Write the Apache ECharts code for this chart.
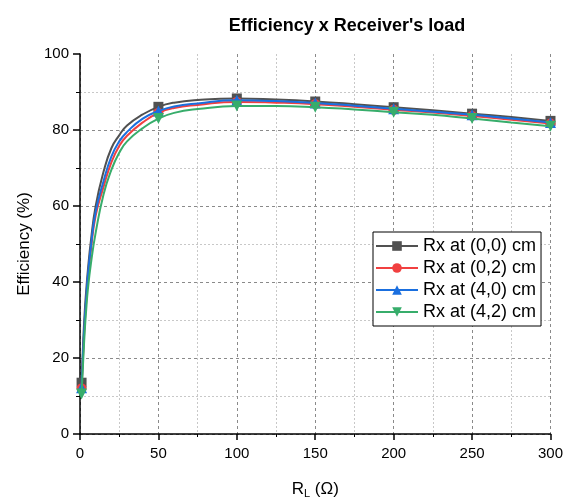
<!DOCTYPE html>
<html>
<head>
<meta charset="utf-8">
<script src="https://cdn.jsdelivr.net/npm/echarts@6/dist/echarts.min.js"></script>
<style>html,body{margin:0;padding:0;background:#fff;}#chart{width:566px;height:504px;}</style>
</head>
<body>
<div id="chart"></div>
<script>
const titleText = "Efficiency x Receiver's load";
const seriesNames = ['Rx at (0,0) cm', 'Rx at (0,2) cm', 'Rx at (4,0) cm', 'Rx at (4,2) cm'];
const xValues = [1, 2, 3, 4, 5, 7, 10, 15, 20, 25, 30, 40, 50, 60, 75, 100, 125, 150, 175, 200, 225, 250, 275, 300];
const markerX = [1, 50, 100, 150, 200, 250, 300];
const rx00 = [13.5, 24, 32, 38, 43, 51, 60, 69, 75.2, 78.6, 81.2, 84.1, 86.1, 87.2, 87.9, 88.3, 88.0, 87.5, 86.8, 86.0, 85.2, 84.3, 83.4, 82.4];
const rx02 = [12.0, 21, 29, 35, 40.5, 48.5, 57.5, 65, 71.5, 75.8, 78.5, 82.0, 84.5, 85.8, 86.6, 87.4, 87.2, 86.8, 86.1, 85.3, 84.6, 83.7, 82.7, 81.7];
const rx40 = [12.2, 22, 30, 36, 41.5, 49.5, 58.5, 66.5, 73.0, 77.0, 79.5, 83.0, 85.0, 86.2, 87.0, 87.8, 87.6, 87.1, 86.4, 85.6, 84.8, 84.0, 83.0, 82.0];
const rx42 = [10.5, 19, 27, 33, 38, 45, 53, 63, 69.5, 74.0, 77.0, 80.5, 83.0, 84.5, 85.5, 86.3, 86.3, 86.0, 85.4, 84.7, 84.0, 83.0, 82.0, 81.0];
const xTicks = [0, 50, 100, 150, 200, 250, 300];
const yTicks = [0, 20, 40, 60, 80, 100];

const colors = ['#515151', '#F14040', '#1A6FDF', '#37AD6B'];
const symbols = ['rect', 'circle', 'triangle', 'path://M0,0 L10,0 L5,9 Z'];
const sizes = [10, 10, 11, 11];
const allY = [rx00, rx02, rx40, rx42];

const chart = echarts.init(document.getElementById('chart'), null, {renderer: 'canvas'});
const FONT = 'Liberation Sans, Arial, sans-serif';

const series = seriesNames.map((name, i) => ({
  name: name,
  type: 'line',
  smooth: 0.5,
  symbol: symbols[i],
  symbolSize: sizes[i],
  showAllSymbol: true,
  color: colors[i],
  lineStyle: {width: 2, color: colors[i]},
  itemStyle: {color: colors[i]},
  z: 2 + i,
  data: xValues.map((x, j) => {
    const item = {value: [x, allY[i][j]]};
    if (markerX.indexOf(x) < 0) item.symbol = 'none';
    return item;
  })
}));

const gridColor = '#8a8a8a';
chart.setOption({
  animation: false,
  backgroundColor: '#fff',
  title: {
    text: titleText,
    left: 342, top: 12, textAlign: 'center',
    textStyle: {fontFamily: FONT, fontSize: 18, fontWeight: 'bold', color: '#000'}
  },
  grid: {left: 80, right: 14, top: 54, bottom: 64, containLabel: false},
  legend: {
    left: 373, top: 232,
    orient: 'vertical',
    data: seriesNames,
    itemWidth: 42, itemHeight: 12, itemGap: 4,
    padding: [5, 5, 5, 2],
    backgroundColor: '#fff',
    borderColor: '#000', borderWidth: 1, borderRadius: 0,
    textStyle: {fontFamily: FONT, fontSize: 18, color: '#000'}
  },
  xAxis: {
    type: 'value', min: 0, max: 300, interval: 50,
    name: '{m|R}{s|L}{m| (Ω)}', nameLocation: 'middle', nameGap: 46,
    nameTextStyle: {rich: {m: {fontFamily: FONT, fontSize: 17, color: '#000'}, s: {fontFamily: FONT, fontSize: 11, color: '#000', verticalAlign: 'bottom', padding: [8, 0, 0, 0]}}},
    axisLine: {show: true, onZero: false, lineStyle: {color: '#000', width: 1.5}},
    axisTick: {show: true, inside: false, length: 6, lineStyle: {color: '#000', width: 1.5}},
    minorTick: {show: true, splitNumber: 2, length: 3, lineStyle: {color: '#000', width: 1}},
    axisLabel: {fontFamily: FONT, fontSize: 15, color: '#000', margin: 12},
    splitLine: {show: true, lineStyle: {color: gridColor, type: [3, 3], width: 1}},
    minorSplitLine: {show: true, lineStyle: {color: '#c8c8c8', type: [2, 2], width: 1}}
  },
  yAxis: {
    type: 'value', min: 0, max: 100, interval: 20,
    name: 'Efficiency (%)', nameLocation: 'middle', nameGap: 42,
    nameTextStyle: {fontFamily: FONT, fontSize: 17, color: '#000'},
    axisLine: {show: true, onZero: false, lineStyle: {color: '#000', width: 1.5}},
    axisTick: {show: true, inside: false, length: 7, lineStyle: {color: '#000', width: 1.5}},
    minorTick: {show: true, splitNumber: 2, length: 4, lineStyle: {color: '#000', width: 1}},
    axisLabel: {fontFamily: FONT, fontSize: 15, color: '#000', margin: 11},
    splitLine: {show: true, lineStyle: {color: [gridColor, gridColor, gridColor, gridColor, gridColor, 'rgba(0,0,0,0)'], type: [3, 3], width: 1}},
    minorSplitLine: {show: true, lineStyle: {color: '#c8c8c8', type: [2, 2], width: 1}}
  },
  series: series
});
</script>
</body>
</html>
